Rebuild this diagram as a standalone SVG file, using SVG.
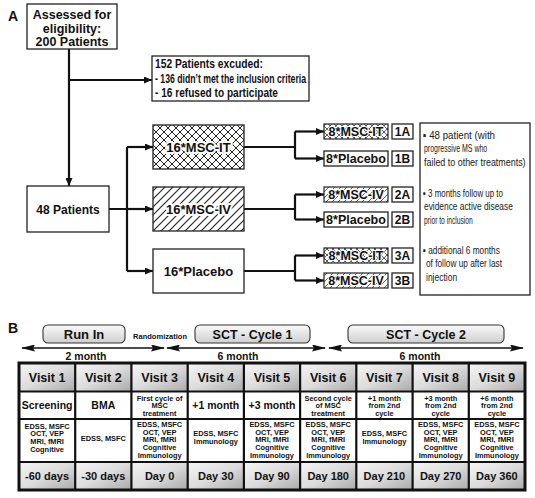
<svg xmlns="http://www.w3.org/2000/svg" width="535" height="498" viewBox="0 0 535 498">
<defs>
<style>
.t{font-family:"Liberation Sans",Arial,Helvetica,sans-serif;font-weight:bold;fill:#111}
.n{font-family:"Liberation Sans",Arial,Helvetica,sans-serif;fill:#1a1a1a;font-size:11px}
.box{fill:#fff;stroke:#222;stroke-width:1.3}
.ln{stroke:#111;stroke-width:2.2;fill:none}
.arr{marker-end:url(#ah)}
.halo{stroke:#fff;stroke-width:4;paint-order:stroke;stroke-linejoin:round}
.rb{fill:url(#rbg);stroke:#333;stroke-width:1.1}
.bl{stroke:#111;stroke-width:1.6;fill:none;marker-start:url(#bh);marker-end:url(#bh)}
.hc{fill:url(#cg)}
.grid{stroke:#111;stroke-width:2.2;fill:none}
.c{text-anchor:middle}
.s7{font-size:7.4px}
</style>
<marker id="ah" markerUnits="userSpaceOnUse" markerWidth="8" markerHeight="7" refX="8" refY="3.5" orient="auto"><path d="M0,0 L8,3.5 L0,7 z" fill="#111"/></marker>
<marker id="bh" markerUnits="userSpaceOnUse" markerWidth="14" markerHeight="7" refX="13" refY="3.5" orient="auto-start-reverse"><path d="M0,0 L14,3.5 L0,7 L2,3.5 z" fill="#111"/></marker>
<pattern id="xh" patternUnits="userSpaceOnUse" width="8" height="8"><rect width="8" height="8" fill="#fff"/><path d="M0,0 L8,8 M8,0 L0,8" stroke="#222" stroke-width="1"/></pattern>
<pattern id="xhs" patternUnits="userSpaceOnUse" width="6" height="6"><rect width="6" height="6" fill="#fff"/><path d="M0,0 L6,6 M6,0 L0,6" stroke="#333" stroke-width="0.8"/></pattern>
<pattern id="dh" patternUnits="userSpaceOnUse" width="8" height="8"><rect width="8" height="8" fill="#fff"/><path d="M-1,9 L9,-1 M-3,3 L3,-3 M5,11 L11,5" stroke="#222" stroke-width="1.1"/></pattern>
<pattern id="dhs" patternUnits="userSpaceOnUse" width="6" height="6"><rect width="6" height="6" fill="#fff"/><path d="M-1,7 L7,-1 M-2,2 L2,-2 M4,8 L8,4" stroke="#333" stroke-width="0.8"/></pattern>
<linearGradient id="rbg" x1="0" y1="0" x2="0" y2="1"><stop offset="0" stop-color="#fafafa"/><stop offset="1" stop-color="#cfcfcf"/></linearGradient>
<linearGradient id="cg" x1="0" y1="0" x2="1" y2="1"><stop offset="0" stop-color="#f6f6f6"/><stop offset="0.5" stop-color="#dcdcdc"/><stop offset="1" stop-color="#a9a9a9"/></linearGradient>
</defs>
<rect width="535" height="498" fill="#fff"/>

<text class="t" x="8" y="21" font-size="14">A</text>
<text class="t" x="8" y="333" font-size="14">B</text>

<g id="connectors">
<path class="ln arr" d="M69,49 V186"/>
<path class="ln arr" d="M69,80 H152"/>
<path class="ln" d="M109,209 H127 M127,147 V271"/>
<path class="ln arr" d="M127,147 H153"/>
<path class="ln arr" d="M127,209 H153"/>
<path class="ln arr" d="M127,271 H153"/>
<path class="ln" d="M244,147 H295 M295,131.5 V158.5"/>
<path class="ln arr" d="M295,131.5 H324"/>
<path class="ln arr" d="M295,158.5 H324"/>
<path class="ln" d="M244,209 H295 M295,194.5 V219.5"/>
<path class="ln arr" d="M295,194.5 H324"/>
<path class="ln arr" d="M295,219.5 H324"/>
<path class="ln" d="M244,271 H295 M295,255.5 V280.5"/>
<path class="ln arr" d="M295,255.5 H324"/>
<path class="ln arr" d="M295,280.5 H324"/>
<path class="bl" d="M22,348 H164"/>
<path class="bl" d="M167,348 H325"/>
<path class="bl" d="M329,348 H523"/>
</g>

<g id="assessed">
<rect class="box" x="27" y="4" width="90" height="45"/>
<text class="t c" x="72" y="18.5" font-size="12.5">Assessed for</text>
<text class="t c" x="72" y="32.5" font-size="12.5">eligibility:</text>
<text class="t c" x="72" y="46.3" font-size="12.5">200 Patients</text>
</g>

<g id="excluded">
<rect class="box" x="152" y="56" width="157" height="45"/>
<text class="t" x="155" y="67.5" font-size="12" textLength="108" lengthAdjust="spacingAndGlyphs">152 Patients excuded:</text>
<text class="t" x="155" y="83" font-size="12" textLength="151" lengthAdjust="spacingAndGlyphs">- 136 didn’t met the inclusion criteria</text>
<text class="t" x="155" y="97" font-size="12" textLength="123" lengthAdjust="spacingAndGlyphs">- 16 refused to participate</text>
</g>

<g id="patients48">
<rect class="box" x="27" y="186" width="82" height="46"/>
<text class="t c" x="68" y="213.5" font-size="12">48 Patients</text>
</g>

<g id="msc-it-16">
<rect x="153" y="125" width="91" height="44" fill="url(#xh)" stroke="#222" stroke-width="1.3"/>
<text class="t c halo" x="198.5" y="151.5" font-size="13">16*MSC-IT</text>
</g>
<g id="msc-iv-16">
<rect x="153" y="187" width="91" height="44" fill="url(#dh)" stroke="#222" stroke-width="1.3"/>
<text class="t c halo" x="198.5" y="213.5" font-size="13">16*MSC-IV</text>
</g>
<g id="placebo-16">
<rect class="box" x="153" y="249" width="91" height="44"/>
<text class="t c" x="198.5" y="275.5" font-size="13">16*Placebo</text>
</g>

<g id="g1a">
<rect x="324" y="124" width="64" height="15" fill="url(#xhs)" stroke="#222" stroke-width="1.2"/>
<text class="t c halo" x="356" y="136" font-size="12.5" style="stroke-width:2">8*MSC-IT</text>
<rect class="box" x="392" y="124" width="21" height="15"/>
<text class="t c" x="402.5" y="136" font-size="12">1A</text>
</g>
<g id="g1b">
<rect class="box" x="324" y="151" width="64" height="15"/>
<text class="t c" x="356" y="163" font-size="12.5">8*Placebo</text>
<rect class="box" x="392" y="151" width="21" height="15"/>
<text class="t c" x="402.5" y="163" font-size="12">1B</text>
</g>
<g id="g2a">
<rect x="324" y="187" width="64" height="15" fill="url(#dhs)" stroke="#222" stroke-width="1.2"/>
<text class="t c halo" x="356" y="199" font-size="12.5" style="stroke-width:2">8*MSC-IV</text>
<rect class="box" x="392" y="187" width="21" height="15"/>
<text class="t c" x="402.5" y="199" font-size="12">2A</text>
</g>
<g id="g2b">
<rect class="box" x="324" y="212" width="64" height="15"/>
<text class="t c" x="356" y="224" font-size="12.5">8*Placebo</text>
<rect class="box" x="392" y="212" width="21" height="15"/>
<text class="t c" x="402.5" y="224" font-size="12">2B</text>
</g>
<g id="g3a">
<rect x="324" y="248" width="64" height="15" fill="url(#xhs)" stroke="#222" stroke-width="1.2"/>
<text class="t c halo" x="356" y="260" font-size="12.5" style="stroke-width:2">8*MSC-IT</text>
<rect class="box" x="392" y="248" width="21" height="15"/>
<text class="t c" x="402.5" y="260" font-size="12">3A</text>
</g>
<g id="g3b">
<rect x="324" y="273" width="64" height="15" fill="url(#dhs)" stroke="#222" stroke-width="1.2"/>
<text class="t c halo" x="356" y="285" font-size="12.5" style="stroke-width:2">8*MSC-IV</text>
<rect class="box" x="392" y="273" width="21" height="15"/>
<text class="t c" x="402.5" y="285" font-size="12">3B</text>
</g>

<g id="notes">
<rect class="box" x="420" y="123" width="110" height="172"/>
<g transform="scale(0.8,1)">
<text class="n" x="528.75" y="139" textLength="90" lengthAdjust="spacingAndGlyphs">▪ 48 patient (with</text>
<text class="n" x="530" y="152.5" textLength="79" lengthAdjust="spacingAndGlyphs">progressive MS who</text>
<text class="n" x="530" y="166" textLength="127" lengthAdjust="spacingAndGlyphs">failed to other treatments)</text>
<text class="n" x="528.75" y="197" textLength="100" lengthAdjust="spacingAndGlyphs">▪ 3 months follow up to</text>
<text class="n" x="530" y="210.5" textLength="111" lengthAdjust="spacingAndGlyphs">evidence active disease</text>
<text class="n" x="530" y="224" textLength="61" lengthAdjust="spacingAndGlyphs">prior to inclusion</text>
<text class="n" x="528.75" y="254" textLength="96" lengthAdjust="spacingAndGlyphs">▪ additional 6 months</text>
<text class="n" x="532.5" y="267.5" textLength="95" lengthAdjust="spacingAndGlyphs">of follow up after last</text>
<text class="n" x="532.5" y="281" textLength="39" lengthAdjust="spacingAndGlyphs">injection</text>
</g>
</g>

<g id="runin">
<rect class="rb" x="43" y="325" width="82" height="18" rx="5"/>
<text class="t c" x="84" y="339" font-size="13">Run In</text>
</g>
<text class="t c" x="160" y="339" font-size="8" textLength="54" lengthAdjust="spacingAndGlyphs">Randomization</text>
<g id="cycle1">
<rect class="rb" x="195" y="325" width="115" height="18" rx="5"/>
<text class="t c" x="252.5" y="339" font-size="12.5">SCT - Cycle 1</text>
</g>
<g id="cycle2">
<rect class="rb" x="348" y="325" width="156" height="18" rx="5"/>
<text class="t c" x="426" y="339" font-size="12.5">SCT - Cycle 2</text>
</g>
<text class="t c" x="86" y="360" font-size="10.5">2 month</text>
<text class="t c" x="238" y="360" font-size="10.5">6 month</text>
<text class="t c" x="420" y="360" font-size="10.5">6 month</text>

<g id="table">
<rect x="19" y="363" width="506" height="127" fill="#fff"/>
<g class="hc">
<rect x="19" y="363" width="56.2" height="28.5"/><rect x="75.2" y="363" width="56.2" height="28.5"/><rect x="131.4" y="363" width="56.2" height="28.5"/>
<rect x="187.7" y="363" width="56.2" height="28.5"/><rect x="243.9" y="363" width="56.2" height="28.5"/><rect x="300.1" y="363" width="56.2" height="28.5"/>
<rect x="356.3" y="363" width="56.2" height="28.5"/><rect x="412.6" y="363" width="56.2" height="28.5"/><rect x="468.8" y="363" width="56.2" height="28.5"/>
<rect x="19" y="462" width="56.2" height="28"/><rect x="75.2" y="462" width="56.2" height="28"/><rect x="131.4" y="462" width="56.2" height="28"/>
<rect x="187.7" y="462" width="56.2" height="28"/><rect x="243.9" y="462" width="56.2" height="28"/><rect x="300.1" y="462" width="56.2" height="28"/>
<rect x="356.3" y="462" width="56.2" height="28"/><rect x="412.6" y="462" width="56.2" height="28"/><rect x="468.8" y="462" width="56.2" height="28"/>
</g>
<path class="grid" d="M75.2,363 V490 M131.4,363 V490 M187.7,363 V490 M243.9,363 V490 M300.1,363 V490 M356.3,363 V490 M412.6,363 V490 M468.8,363 V490 M19,391.5 H525 M19,419 H525 M19,462 H525"/>
<rect x="19" y="363" width="506" height="127" fill="none" stroke="#111" stroke-width="3"/>

<g class="t c" font-size="12.5">
<text x="47.1" y="382">Visit 1</text><text x="103.3" y="382">Visit 2</text><text x="159.6" y="382">Visit 3</text>
<text x="215.8" y="382">Visit 4</text><text x="272" y="382">Visit 5</text><text x="328.2" y="382">Visit 6</text>
<text x="384.4" y="382">Visit 7</text><text x="440.7" y="382">Visit 8</text><text x="496.9" y="382">Visit 9</text>
</g>
<g class="t c" font-size="10.5">
<text x="47.1" y="409">Screening</text><text x="103.3" y="409">BMA</text>
<text x="215.8" y="409">+1 month</text><text x="272" y="409">+3 month</text>
</g>
<g class="t c s7">
<text x="159.6" y="400.5">First cycle of</text><text x="159.6" y="408">MSC</text><text x="159.6" y="415.5">treatment</text>
<text x="328.2" y="400.5">Second cycle</text><text x="328.2" y="408">of MSC</text><text x="328.2" y="415.5">treatment</text>
<text x="384.4" y="400.5">+1 month</text><text x="384.4" y="408">from 2nd</text><text x="384.4" y="415.5">cycle</text>
<text x="440.7" y="400.5">+3 month</text><text x="440.7" y="408">from 2nd</text><text x="440.7" y="415.5">cycle</text>
<text x="496.9" y="400.5">+6 month</text><text x="496.9" y="408">from 2nd</text><text x="496.9" y="415.5">cycle</text>
</g>
<g class="t c s7">
<text x="47.1" y="428.5">EDSS, MSFC</text><text x="47.1" y="436.2">OCT, VEP</text><text x="47.1" y="443.9">MRI, fMRI</text><text x="47.1" y="451.6">Cognitive</text>
<text x="103.3" y="441">EDSS, MSFC</text>
<text x="159.6" y="426.8">EDSS, MSFC</text><text x="159.6" y="434.5">OCT, VEP</text><text x="159.6" y="442.2">MRI, fMRI</text><text x="159.6" y="449.9">Cognitive</text><text x="159.6" y="457.6">Immunology</text>
<text x="215.8" y="436">EDSS, MSFC</text><text x="215.8" y="444">Immunology</text>
<text x="272" y="426.8">EDSS, MSFC</text><text x="272" y="434.5">OCT, VEP</text><text x="272" y="442.2">MRI, fMRI</text><text x="272" y="449.9">Cognitive</text><text x="272" y="457.6">Immunology</text>
<text x="328.2" y="426.8">EDSS, MSFC</text><text x="328.2" y="434.5">OCT, VEP</text><text x="328.2" y="442.2">MRI, fMRI</text><text x="328.2" y="449.9">Cognitive</text><text x="328.2" y="457.6">Immunology</text>
<text x="384.4" y="436">EDSS, MSFC</text><text x="384.4" y="444">Immunology</text>
<text x="440.7" y="426.8">EDSS, MSFC</text><text x="440.7" y="434.5">OCT, VEP</text><text x="440.7" y="442.2">MRI, fMRI</text><text x="440.7" y="449.9">Cognitive</text><text x="440.7" y="457.6">Immunology</text>
<text x="496.9" y="426.8">EDSS, MSFC</text><text x="496.9" y="434.5">OCT, VEP</text><text x="496.9" y="442.2">MRI, fMRI</text><text x="496.9" y="449.9">Cognitive</text><text x="496.9" y="457.6">Immunology</text>
</g>
<g class="t c" font-size="11">
<text x="47.1" y="480">-60 days</text><text x="103.3" y="480">-30 days</text><text x="159.6" y="480">Day 0</text>
<text x="215.8" y="480">Day 30</text><text x="272" y="480">Day 90</text><text x="328.2" y="480">Day 180</text>
<text x="384.4" y="480">Day 210</text><text x="440.7" y="480">Day 270</text><text x="496.9" y="480">Day 360</text>
</g>
</g>
</svg>
